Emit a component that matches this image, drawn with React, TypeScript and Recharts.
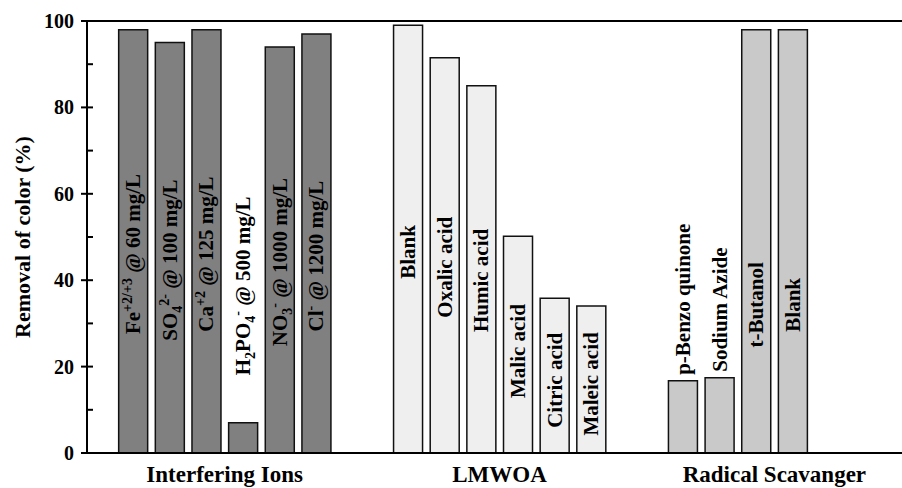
import React from 'react';
import { BarChart, Bar, XAxis, YAxis, Cell, ReferenceLine, Label } from 'recharts';

// group names shown under the x axis
const groupNames = ['Interfering Ions', 'LMWOA', 'Radical Scavanger'];

// _{..} = subscript, ^{..} = superscript
const ionLabels = [
  'Fe^{+2/+3} @ 60 mg/L',
  'SO_{4}^{2-} @ 100 mg/L',
  'Ca^{+2} @ 125 mg/L',
  'H_{2}PO_{4}^{-} @ 500 mg/L',
  'NO_{3}^{-} @ 1000 mg/L',
  'Cl^{-} @ 1200 mg/L',
];
const ionValues = [98, 95, 98, 7, 94, 97];

const acidLabels = ['Blank', 'Oxalic acid', 'Humic acid', 'Malic acid', 'Citric acid', 'Maleic acid'];
const acidValues = [99, 91.5, 85, 50.2, 35.8, 34];

const scavengerLabels = ['p-Benzo quinone', 'Sodium Azide', 't-Butanol', 'Blank'];
const scavengerValues = [16.7, 17.4, 98, 98];

const yTicks = [0, 10, 20, 30, 40, 50, 60, 70, 80, 90, 100];

// layout: where each group starts on the slot axis, where its name sits
const groupStart = [0, 7.5, 15];
const groupTickAt = [2.5, 10, 17.5];
const groupFill = ['#808080', '#efefef', '#c9c9c9'];
const labelCenter = [0.47, 0.47, 0.35];

const FONT = '"Liberation Serif", "Times New Roman", serif';

const rows = [
  { labels: ionLabels, values: ionValues },
  { labels: acidLabels, values: acidValues },
  { labels: scavengerLabels, values: scavengerValues },
].flatMap((g, gi) =>
  g.values.map((v, i) => ({ pos: groupStart[gi] + i, value: v, label: g.labels[i], group: gi }))
);

type Seg = { text: string; mode: 'n' | 'sub' | 'sup' };

function parseRich(s: string): Seg[] {
  const out: Seg[] = [];
  const re = /([_^])\{([^}]*)\}/g;
  let last = 0;
  let m: RegExpExecArray | null;
  while ((m = re.exec(s))) {
    if (m.index > last) out.push({ text: s.slice(last, m.index), mode: 'n' });
    out.push({ text: m[2], mode: m[1] === '_' ? 'sub' : 'sup' });
    last = m.index + m[0].length;
  }
  if (last < s.length) out.push({ text: s.slice(last), mode: 'n' });
  return out;
}

const shift = { n: 0, sub: 5, sup: -8 };

const RichText = ({ text }: { text: string }) => {
  let cur = 0;
  return (
    <>
      {parseRich(text).map((seg, k) => {
        const dy = shift[seg.mode] - cur;
        cur = shift[seg.mode];
        return (
          <tspan key={k} dy={dy} fontSize={seg.mode === 'n' ? 21 : 14}>
            {seg.text}
          </tspan>
        );
      })}
    </>
  );
};

const renderBarLabel = (props: any) => {
  const vb = props.viewBox ?? props;
  const x = props.x ?? vb.x;
  const y = props.y ?? vb.y;
  const width = props.width ?? vb.width;
  const height = props.height ?? vb.height;
  const row = rows[props.index];
  if (!row) return null;
  const cx = x + width / 2;
  const bottom = y + height;
  const perUnit = height / row.value;
  let cy: number;
  let anchor: 'start' | 'middle';
  if (row.value < 30) {
    anchor = 'start';
    cy = bottom - Math.max(row.value + 1.4, 18) * perUnit;
  } else {
    anchor = 'middle';
    cy = bottom - labelCenter[row.group] * height;
  }
  return (
    <text
      transform={`translate(${cx},${cy}) rotate(-90)`}
      x={0}
      y={7}
      textAnchor={anchor}
      fontFamily={FONT}
      fontWeight="bold"
      fontSize={21}
      fill="#000"
    >
      <RichText text={row.label} />
    </text>
  );
};

const YTick = ({ x, y, payload }: any) => {
  const major = payload.value % 20 === 0;
  return (
    <g>
      <line x1={major ? x - 6 : x} x2={x + 6} y1={y} y2={y} stroke="#000" strokeWidth={2} />
      {major && (
        <text x={x - 13} y={y} dy="0.35em" textAnchor="end" fontFamily={FONT} fontWeight="bold" fontSize={20} fill="#000">
          {payload.value}
        </text>
      )}
    </g>
  );
};

const XTick = ({ x, y, payload }: any) => {
  const gi = groupTickAt.indexOf(payload.value);
  return (
    <text x={x} y={y + 29} textAnchor="middle" fontFamily={FONT} fontWeight="bold" fontSize={23} fill="#000">
      {groupNames[gi]}
    </text>
  );
};

export default function App() {
  return (
    <div style={{ position: 'absolute', left: 0, top: 0, width: 902, height: 488, overflow: 'hidden', background: '#fff' }}>
      <BarChart width={921} height={488} data={rows} margin={{ top: 21, right: 0, bottom: 0, left: 0 }}>
        <XAxis
          type="number"
          dataKey="pos"
          domain={[-1.255, 21.5]}
          ticks={groupTickAt}
          interval={0}
          tick={<XTick />}
          tickLine={false}
          tickSize={0}
          tickMargin={0}
          height={35}
          axisLine={{ stroke: '#000', strokeWidth: 2 }}
        />
        <YAxis
          type="number"
          domain={[0, 100]}
          ticks={yTicks}
          interval={0}
          width={87}
          tick={<YTick />}
          tickLine={false}
          tickSize={0}
          tickMargin={0}
          axisLine={{ stroke: '#000', strokeWidth: 2 }}
        >
          <Label
            content={(p: any) => {
              const vb = p.viewBox;
              const cy = vb.y + vb.height / 2;
              return (
                <text
                  transform={`translate(22,${cy}) rotate(-90)`}
                  textAnchor="middle"
                  dy="0.35em"
                  fontFamily={FONT}
                  fontWeight="bold"
                  fontSize={22}
                  fill="#000"
                >
                  Removal of color (%)
                </text>
              );
            }}
          />
        </YAxis>
        <ReferenceLine y={100} stroke="#000" strokeWidth={2} />
        <Bar dataKey="value" barSize={29} stroke="#111" strokeWidth={1.5} isAnimationActive={false} label={renderBarLabel}>
          {rows.map((r, i) => (
            <Cell key={i} fill={groupFill[r.group]} />
          ))}
        </Bar>
      </BarChart>
    </div>
  );
}
